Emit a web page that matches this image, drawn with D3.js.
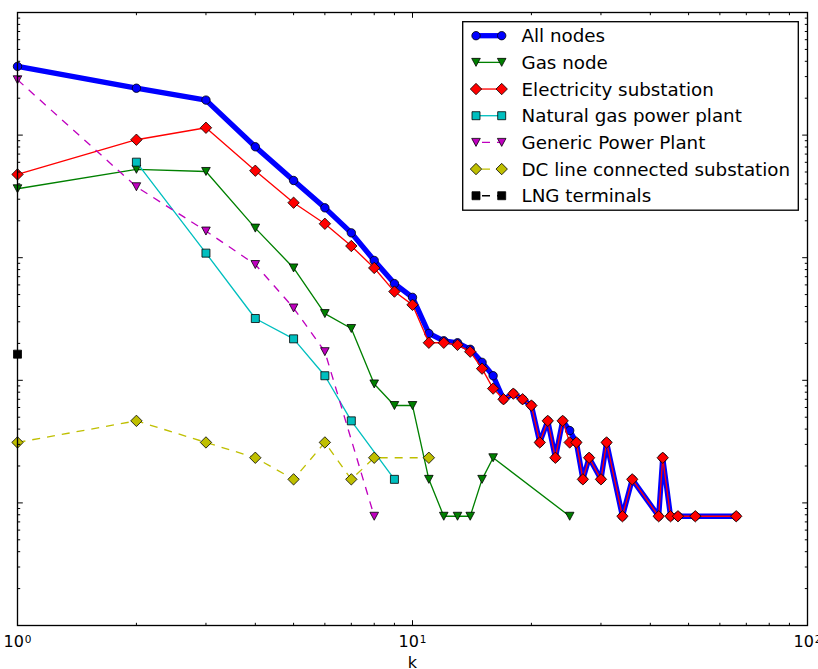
<!DOCTYPE html>
<html><head><meta charset="utf-8">
<script src="https://cdn.jsdelivr.net/npm/d3@7"></script>
<style>html,body{margin:0;padding:0;background:#fff;}svg{display:block;}text{font-family:"DejaVu Sans",sans-serif;}</style>
</head><body>
<svg id="chart" width="818" height="669"></svg>
<script>
// ---- data (degree k, number of nodes with that degree) ----
const allNodesK     = [1,2,3,4,5,6,7,8,9,10,11,12,13,14,15,16,17,18,19,20,21,22,23,24,25,26,27,28,30,31,34,36,42,43,45,47,52,66];
const allNodesCount = [4670,3100,2480,1032,548,328,205,122,79,61,31,27,26,23,18,14,9,10,9,8,4,6,3,6,5,4,2,3,2,4,1,2,1,3,1,1,1,1];
const gasK          = [1,2,3,4,5,6,7,8,9,10,11,12,13,14,15,16,25];
const gasCount      = [469,676,649,224,106,45,34,12,8,8,2,1,1,1,2,3,1];
const elecK         = [1,2,3,4,5,6,7,8,9,10,11,12,13,14,15,16,17,18,19,20,21,22,23,24,25,26,27,28,30,31,34,36,42,43,45,47,52,66];
const elecCount     = [614,1178,1475,658,361,243,160,106,68,53,26,26,25,22,16,11,9,10,9,8,4,6,3,6,4,4,2,3,2,4,1,2,1,3,1,1,1,1];
const ngPlantK      = [2,3,4,5,6,7,9];
const ngPlantCount  = [773,140,41,28,14,6,2];
const genPlantK     = [1,2,3,4,5,6,8];
const genPlantCount = [3632,487,212,113,50,22,1];
const dcSubK        = [1,2,3,4,5,6,7,8,11];
const dcSubCount    = [4,6,4,3,2,4,2,3,3];
const lngK          = [1];
const lngCount      = [21];
const seriesNames   = ["All nodes","Gas node","Electricity substation","Natural gas power plant","Generic Power Plant","DC line connected substation","LNG terminals"];
const xTickValues   = [1,10,100];
const xTickExponents= ["0","1","2"];
const xLabel        = "k";

// normalisation: P(k) = count / total number of nodes
const TOTAL = d3.sum(allNodesCount);

const styles = [
  {color:"#0000ff", width:5.3, dash:null,  marker:"circle"},
  {color:"#008000", width:1.33, dash:null, marker:"tri"},
  {color:"#ff0000", width:1.33, dash:null, marker:"diamond"},
  {color:"#00bfbf", width:1.33, dash:null, marker:"square"},
  {color:"#bf00bf", width:1.33, dash:"8,7", marker:"tri"},
  {color:"#bfbf00", width:1.33, dash:"8,7", marker:"diamond"},
  {color:"#000000", width:1.33, dash:"8,7", marker:"square"}
];
const dataSets = [
  [allNodesK, allNodesCount],[gasK, gasCount],[elecK, elecCount],[ngPlantK, ngPlantCount],
  [genPlantK, genPlantCount],[dcSubK, dcSubCount],[lngK, lngCount]
];

const L = 17.5, R = 807.5, T = 12.5, B = 625.5;
const x = d3.scaleLog().domain([1,100]).range([L,R]);
const y = d3.scaleLog().domain([1e-5,1]).range([B,T]);

const svg = d3.select("#chart");
const plot = svg.append("g");
svg.append("defs").append("clipPath").attr("id","clip")
  .append("rect").attr("x",L-8).attr("y",T).attr("width",R-L+16).attr("height",B-T);

function markerPath(type){
  switch(type){
    case "circle": return d3.symbol().type(d3.symbolCircle).size(Math.PI*4.2*4.2)();
    case "square": return "M-4,-4L4,-4L4,4L-4,4Z";
    case "diamond": return "M0,-5.7L5.7,0L0,5.7L-5.7,0Z";
    case "tri": return "M-4.3,-4L4.3,-4L0,4Z";
  }
}

const line = d3.line().x(d=>x(d.k)).y(d=>y(d.p));
dataSets.forEach((ds,i)=>{
  const st = styles[i];
  const pts = ds[0].map((k,j)=>({k:k, p: ds[1][j]/TOTAL}));
  const g = plot.append("g").attr("clip-path","url(#clip)");
  g.append("path").datum(pts).attr("d",line).attr("fill","none")
    .attr("stroke",st.color).attr("stroke-width",st.width)
    .attr("stroke-linejoin","round")
    .attr("stroke-dasharray",st.dash);
  g.selectAll("path.m").data(pts).enter().append("path").attr("class","m")
    .attr("d",markerPath(st.marker))
    .attr("transform",d=>`translate(${x(d.k)},${y(d.p)})`)
    .attr("fill",st.color).attr("stroke","#000").attr("stroke-width",0.8);
});

// ---- axes: ticks inward on all four sides ----
const ax = svg.append("g");
function logTicks(domain){
  const out=[];
  for(let e=Math.round(Math.log10(domain[0])); e<=Math.round(Math.log10(domain[1])); e++){
    for(let m=1;m<10;m++){ const v=m*Math.pow(10,e); if(v>=domain[0]*0.999 && v<=domain[1]*1.001) out.push({v:v, major:m===1}); }
  }
  return out;
}
const xt = logTicks(x.domain());
const yt = logTicks(y.domain());
const major=5.3, minor=2.7;
xt.forEach(t=>{
  const px=x(t.v), len=t.major?major:minor;
  ax.append("line").attr("x1",px).attr("x2",px).attr("y1",B).attr("y2",B-len).attr("stroke","#000").attr("stroke-width",1);
  ax.append("line").attr("x1",px).attr("x2",px).attr("y1",T).attr("y2",T+len).attr("stroke","#000").attr("stroke-width",1);
});
yt.forEach(t=>{
  const py=y(t.v), len=t.major?major:minor;
  ax.append("line").attr("x1",L).attr("x2",L+len).attr("y1",py).attr("y2",py).attr("stroke","#000").attr("stroke-width",1);
  ax.append("line").attr("x1",R).attr("x2",R-len).attr("y1",py).attr("y2",py).attr("stroke","#000").attr("stroke-width",1);
});
ax.append("rect").attr("x",L).attr("y",T).attr("width",R-L).attr("height",B-T)
  .attr("fill","none").attr("stroke","#000").attr("stroke-width",1.33);

// x tick labels 10^n
xTickValues.forEach((v,i)=>{
  const t = ax.append("text").attr("x",x(v)).attr("y",647.3).attr("text-anchor","middle")
    .attr("font-size",16).attr("fill","#000");
  t.append("tspan").text("10");
  t.append("tspan").attr("font-size",10.5).attr("dy",-4).attr("dx",1).text(xTickExponents[i]);
});
ax.append("text").attr("x",(L+R)/2).attr("y",667.5).attr("text-anchor","middle")
  .attr("font-size",16).attr("fill","#000").text(xLabel);

// ---- legend ----
const lg = svg.append("g");
lg.append("rect").attr("x",462.7).attr("y",21.7).attr("width",335.6).attr("height",188.5)
  .attr("fill","#fff").attr("stroke","#000").attr("stroke-width",1.33);
seriesNames.forEach((name,i)=>{
  const st = styles[i];
  const cy = 35.7 + i*26.67;
  lg.append("line").attr("x1",476).attr("x2",501.7).attr("y1",cy).attr("y2",cy)
    .attr("stroke",st.color).attr("stroke-width",st.width).attr("stroke-dasharray",st.dash?"8,7":null)
    .attr("stroke-dashoffset",st.dash?-6:null);
  [476,501.7].forEach(mx=>{
    lg.append("path").attr("d",markerPath(st.marker)).attr("transform",`translate(${mx},${cy})`)
      .attr("fill",st.color).attr("stroke","#000").attr("stroke-width",0.8);
  });
  lg.append("text").attr("x",521.5).attr("y",cy+6.6).attr("font-size",18.3).attr("fill","#000").text(name);
});
</script>
</body></html>
